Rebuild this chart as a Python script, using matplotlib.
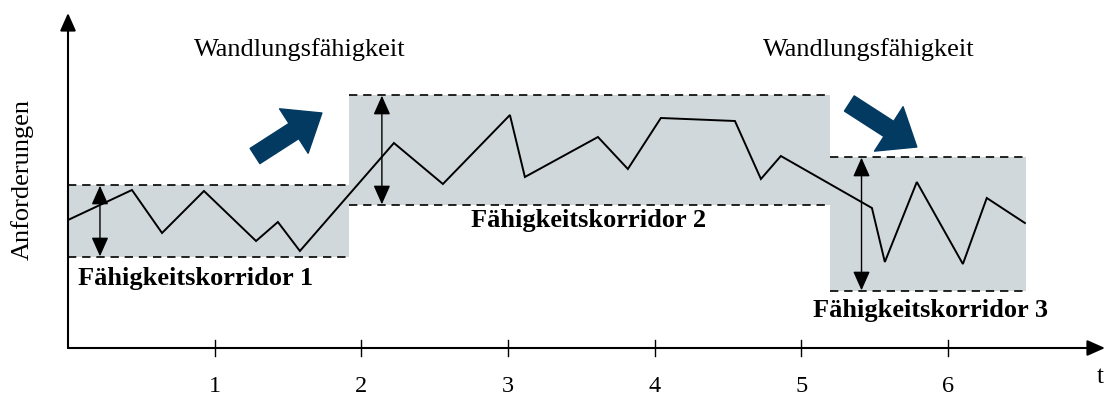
import matplotlib
matplotlib.use("Agg")
import matplotlib.pyplot as plt
from matplotlib.patches import FancyArrowPatch, Rectangle

# ---- data ----
t_values = [0.0, 0.436, 0.641, 0.927, 1.282, 1.431, 1.581, 2.222, 2.556, 3.013,
            3.115, 3.613, 3.817, 4.042, 4.547, 4.724, 4.860, 5.481, 5.569,
            5.787, 6.101, 6.264, 6.524]
requirements = [12.8, 15.8, 11.5, 15.7, 10.7, 12.6, 9.7, 20.5, 16.4, 23.3,
                17.1, 21.1, 17.9, 23.0, 22.7, 16.9, 19.2, 14.0, 8.6,
                16.6, 8.4, 15.0, 12.5]
corridor_start = [0.0, 1.915, 5.194]
corridor_end = [1.915, 5.194, 6.53]
corridor_low = [9.1, 14.3, 5.7]
corridor_high = [16.3, 25.3, 19.1]
corridor_labels = ["Fähigkeitskorridor 1", "Fähigkeitskorridor 2", "Fähigkeitskorridor 3"]
tick_positions = [1, 2, 3, 4, 5, 6]
tick_labels = ["1", "2", "3", "4", "5", "6"]

W, H = 1105, 396
fig = plt.figure(figsize=(W / 100, H / 100), dpi=100)
ax = fig.add_axes([68 / W, (H - 348) / H, (W - 68) / W, 335 / H])
XMAX, YMAX = 7.07, 33.5
ax.set_xlim(0, XMAX)
ax.set_ylim(0, YMAX)
ax.axis("off")

gray = "#d1d8db"
serif = ["Liberation Serif", "DejaVu Serif"]

# corridors
for x0, x1, lo, hi in zip(corridor_start, corridor_end, corridor_low, corridor_high):
    ax.add_patch(Rectangle((x0, lo), x1 - x0, hi - lo, facecolor=gray,
                           edgecolor="none", zorder=1))
for x0, x1, lo, hi in zip(corridor_start, corridor_end, corridor_low, corridor_high):
    for yy in (lo, hi):
        ax.plot([x0, x1], [yy, yy], color="black", lw=1.2,
                linestyle=(0, (5, 3.5)), zorder=3)

# requirement line
ax.plot(t_values, requirements, color="black", lw=1.4, zorder=4,
        solid_joinstyle="miter")

# double arrows in corridors
arrow_x = [0.218, 2.14, 5.41]
for xa, lo, hi in zip(arrow_x, corridor_low, corridor_high):
    ax.annotate("", xy=(xa, hi), xytext=(xa, lo),
                arrowprops=dict(arrowstyle="<|-|>,head_length=0.9,head_width=0.4",
                                color="black", lw=1.0, shrinkA=0.5, shrinkB=0.5,
                                mutation_scale=13), zorder=5)

# corridor labels
lab_fs = 19
ax.text(0.07, 7.0, corridor_labels[0], fontsize=lab_fs, fontweight="bold",
        family=serif, ha="left", va="center", zorder=6)
ax.text(3.55, 12.7, corridor_labels[1], fontsize=lab_fs, fontweight="bold",
        family=serif, ha="center", va="center", zorder=6)
ax.text(5.88, 3.8, corridor_labels[2], fontsize=lab_fs, fontweight="bold",
        family=serif, ha="center", va="center", zorder=6)

# Wandlungsfähigkeit labels
ax.text(1.58, 29.8, "Wandlungsfähigkeit", fontsize=19, family=serif,
        ha="center", va="center")
ax.text(5.46, 29.8, "Wandlungsfähigkeit", fontsize=19, family=serif,
        ha="center", va="center")

# big blue arrows
blue = "#033a62"
for (xa, ya), (xb, yb) in [((1.275, 19.2), (1.731, 23.5)),
                           ((5.327, 24.45), (5.787, 20.1))]:
    ax.add_patch(FancyArrowPatch((xa, ya), (xb, yb),
                                 arrowstyle="simple,head_length=2.4,head_width=3.8,tail_width=1.3",
                                 mutation_scale=10, color=blue, shrinkA=0, shrinkB=0,
                                 zorder=6))

# axes with arrows
ax.annotate("", xy=(XMAX, 0), xytext=(0, 0), annotation_clip=False,
            arrowprops=dict(arrowstyle="-|>,head_length=0.9,head_width=0.4",
                            color="black", lw=1.5, shrinkA=0, shrinkB=0,
                            mutation_scale=12))
ax.annotate("", xy=(0, YMAX), xytext=(0, 0), annotation_clip=False,
            arrowprops=dict(arrowstyle="-|>,head_length=0.9,head_width=0.4",
                            color="black", lw=1.5, shrinkA=0, shrinkB=0,
                            mutation_scale=12))

# ticks crossing the x axis
for tp, tl in zip(tick_positions, tick_labels):
    ax.plot([tp, tp], [-0.8, 0.8], color="black", lw=1.0, clip_on=False)
    ax.text(tp, -3.8, tl, fontsize=17.5, ha="center", va="center",
            family=serif)

ax.text(7.04, -2.9, "t", fontsize=18, family=serif, ha="center", va="center")

fig.text(22 / W, 1 - 180 / H, "Anforderungen", fontsize=19, family=serif,
         rotation=90, ha="center", va="center")

fig.savefig("out.png", dpi=100)
